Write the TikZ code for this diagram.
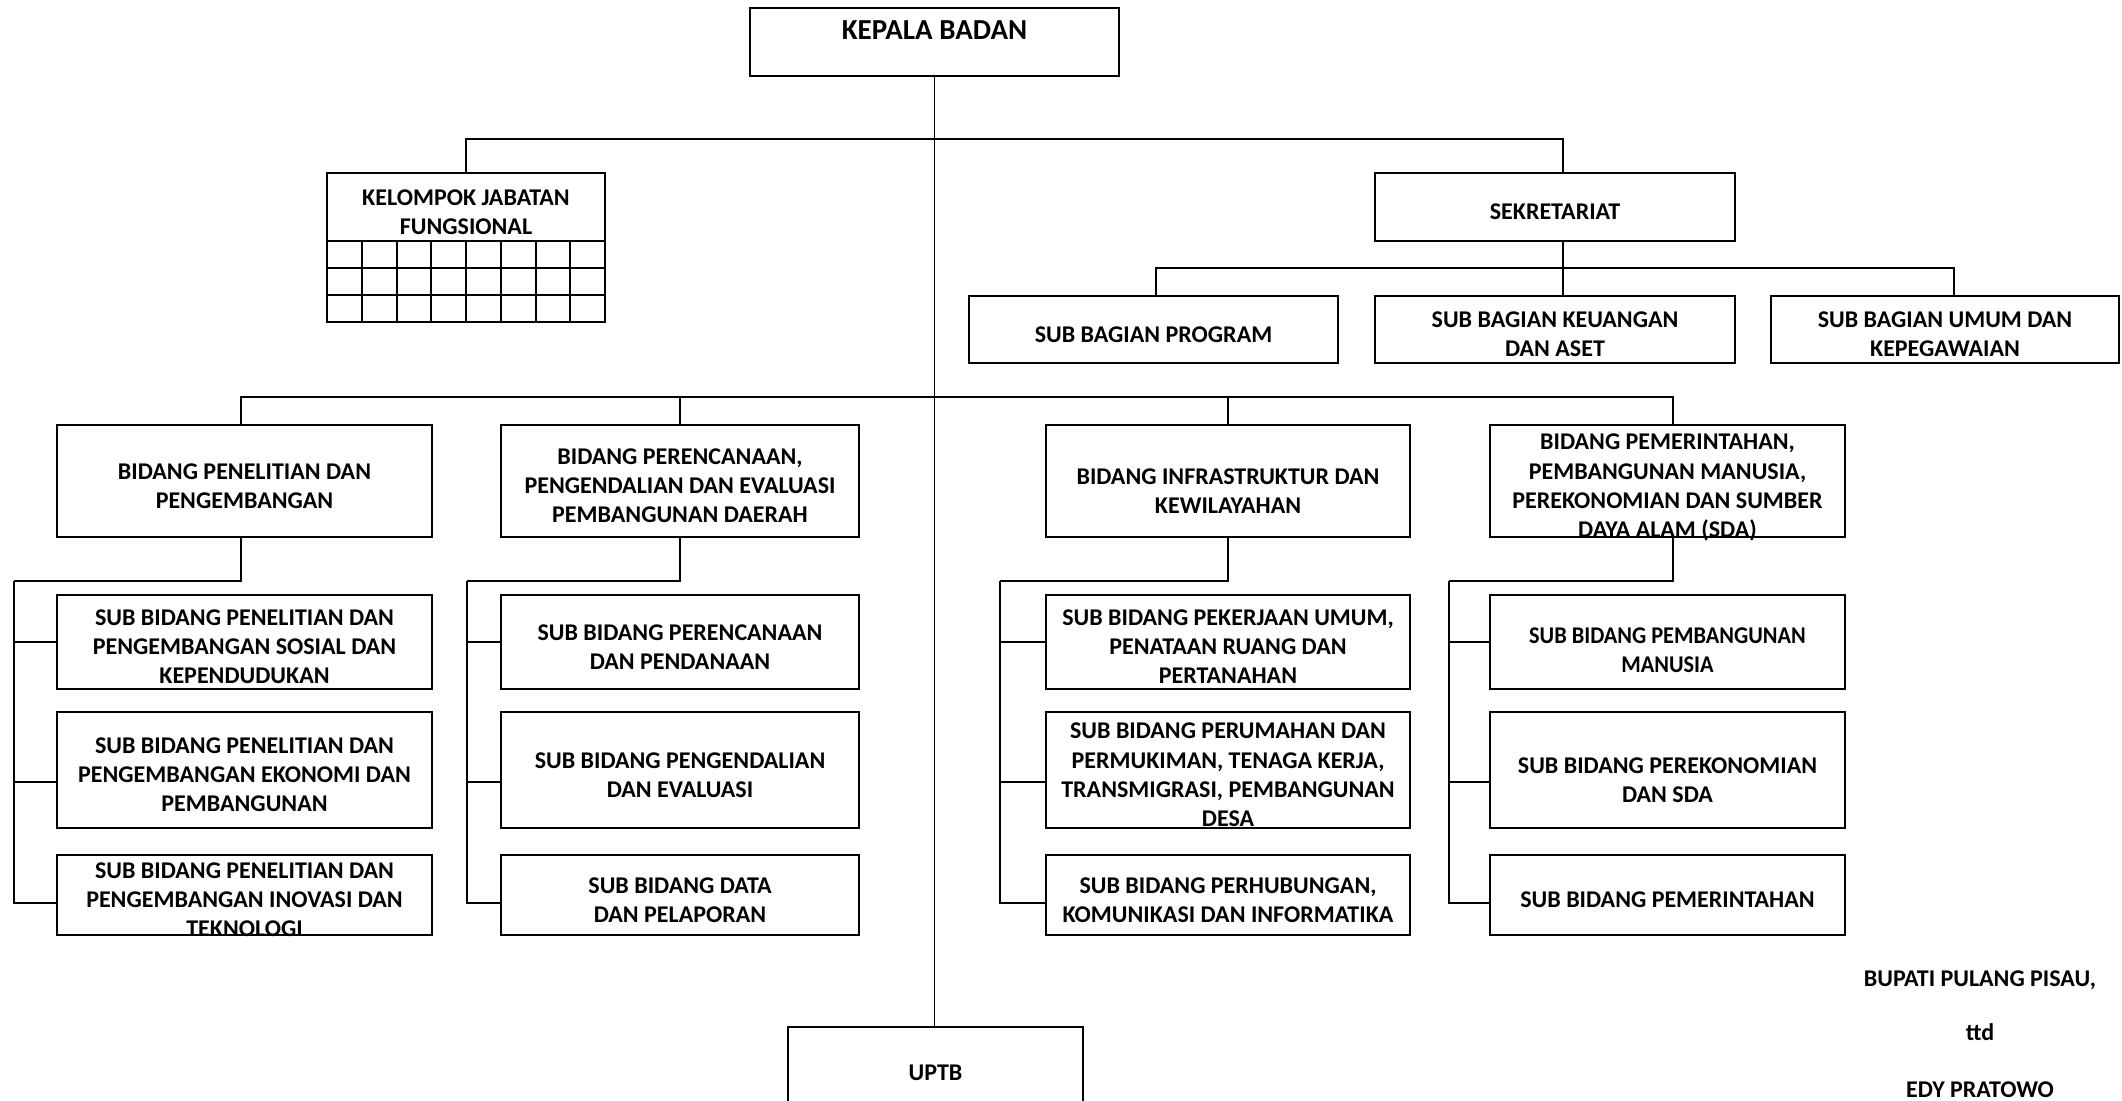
\documentclass[tikz,border=0pt]{standalone}
\usepackage{fontspec}
\setmainfont{Carlito}
\usepackage{tikz}
\usetikzlibrary{fit}
\newcommand\orgfont{\fontsize{12}{14.6}\selectfont\bfseries}
\newcommand\lbl[2][-6.4pt]{\raisebox{#1}[0pt][0pt]{\begin{tabular}{@{}c@{}}#2\end{tabular}}}
\newcommand\narrow[1]{\scalebox{.93}[1]{#1}}
\tikzstyle{unit}=[draw,line width=1.3pt,inner sep=0pt,font=\orgfont]
\tikzstyle{cell}=[line width=1pt]
\tikzstyle{link}=[line width=1pt]
\tikzstyle{trunk}=[line width=.6pt]
\tikzstyle{sign}=[inner sep=0pt,anchor=base,font=\orgfont]
\begin{document}
\begin{tikzpicture}[x=.5pt,y=-.5pt]
	\useasboundingbox (0,0) rectangle (2122,1101);
	% pimpinan dan sekretariat
	\node[unit,fit={(750,8) (1119,76)},font=\fontsize{14.5}{17.7}\selectfont\bfseries] (kb) {\lbl[1.3pt]{KEPALA BADAN}};
	\node[unit,fit={(327,173) (605,241)}] (kjf) {\lbl{KELOMPOK JABATAN\\FUNGSIONAL}};
	\node[unit,fit={(1375,173) (1735,241)}] (sek) {\lbl{SEKRETARIAT}};
	\node[unit,fit={(969,296) (1338,363)}] (sbp) {\lbl{SUB BAGIAN PROGRAM}};
	\node[unit,fit={(1375,296) (1735,363)}] (sbk) {\lbl{SUB BAGIAN KEUANGAN\\DAN ASET}};
	\node[unit,fit={(1771,296) (2119,363)}] (sbu) {\lbl{SUB BAGIAN UMUM DAN\\KEPEGAWAIAN}};
	\draw[cell] (327,241) rectangle (605,322);
	\foreach \r in {268,295} \draw[cell] (327,\r) -- (605,\r);
	\foreach \c in {1,...,7} \draw[cell] (327+34.75*\c,241) -- (327+34.75*\c,322);
	% bidang
	\node[unit,fit={(57,425) (432,537)}] (bp) {\lbl{BIDANG PENELITIAN DAN\\PENGEMBANGAN}};
	\node[unit,fit={(501,425) (859,537)}] (bpr) {\lbl{BIDANG PERENCANAAN,\\PENGENDALIAN DAN EVALUASI\\PEMBANGUNAN DAERAH}};
	\node[unit,fit={(1046,425) (1410,537)}] (bi) {\lbl[-8.9pt]{BIDANG INFRASTRUKTUR DAN\\KEWILAYAHAN}};
	\node[unit,fit={(1490,425) (1845,537)}] (bpm) {\lbl{BIDANG PEMERINTAHAN,\\PEMBANGUNAN MANUSIA,\\PEREKONOMIAN DAN SUMBER\\DAYA ALAM (SDA)}};
	% sub bidang
	\node[unit,fit={(57,595) (432,689)}] (bp-1) {\lbl{SUB BIDANG PENELITIAN DAN\\PENGEMBANGAN SOSIAL DAN\\KEPENDUDUKAN}};
	\node[unit,fit={(57,712) (432,828)}] (bp-2) {\lbl{SUB BIDANG PENELITIAN DAN\\PENGEMBANGAN EKONOMI DAN\\PEMBANGUNAN}};
	\node[unit,fit={(57,855) (432,935)}] (bp-3) {\lbl{SUB BIDANG PENELITIAN DAN\\PENGEMBANGAN INOVASI DAN\\TEKNOLOGI}};
	\node[unit,fit={(501,595) (859,689)}] (bpr-1) {\lbl{SUB BIDANG PERENCANAAN\\DAN PENDANAAN}};
	\node[unit,fit={(501,712) (859,828)}] (bpr-2) {\lbl{SUB BIDANG PENGENDALIAN\\DAN EVALUASI}};
	\node[unit,fit={(501,855) (859,935)}] (bpr-3) {\lbl{SUB BIDANG DATA\\DAN PELAPORAN}};
	\node[unit,fit={(1046,595) (1410,689)}] (bi-1) {\lbl{SUB BIDANG PEKERJAAN UMUM,\\PENATAAN RUANG DAN\\PERTANAHAN}};
	\node[unit,fit={(1046,712) (1410,828)}] (bi-2) {\lbl{SUB BIDANG PERUMAHAN DAN\\PERMUKIMAN, TENAGA KERJA,\\TRANSMIGRASI, PEMBANGUNAN\\DESA}};
	\node[unit,fit={(1046,855) (1410,935)}] (bi-3) {\lbl{SUB BIDANG PERHUBUNGAN,\\KOMUNIKASI DAN INFORMATIKA}};
	\node[unit,fit={(1490,595) (1845,689)}] (bpm-1) {\lbl[-7.9pt]{\narrow{SUB BIDANG PEMBANGUNAN}\\\narrow{MANUSIA}}};
	\node[unit,fit={(1490,712) (1845,828)}] (bpm-2) {\lbl[-8.9pt]{SUB BIDANG PEREKONOMIAN\\DAN SDA}};
	\node[unit,fit={(1490,855) (1845,935)}] (bpm-3) {\lbl{SUB BIDANG PEMERINTAHAN}};
	\node[unit,fit={(788,1027) (1083,1108)}] (uptb) {\lbl{UPTB}};
	% tanda tangan
	\node[sign] (sig1) at (1980,986) {BUPATI PULANG PISAU,};
	\node[sign] (sig2) at (1980,1040) {ttd};
	\node[sign] (sig3) at (1980,1097) {EDY PRATOWO};
	% garis
	\coordinate (h1) at (932,139);
	\coordinate (h2) at (1563,268);
	\coordinate (h3) at (932,397);
	\draw[trunk] (kb.south) -- (kb.south |- uptb.north);
	\draw[link] (kjf.north) |- (h1) -| ([xshift=4pt]sek.north);
	\draw[trunk] ([xshift=4pt]sek.south) -- ([xshift=4pt]sbk.north);
	\draw[link] ([xshift=1pt]sbp.north) |- (h2) -| ([xshift=4.5pt]sbu.north);
	\draw[link] ([xshift=-2pt]bp.north) |- (h3) -| ([xshift=2.5pt]bpm.north);
	\draw[link] (bpr.north) -- (bpr.north |- h3);
	\draw[link] (bi.north) -- (bi.north |- h3);
	\foreach \b/\s/\d in {bp/14/-2pt,bpr/467/0pt,bi/1000/0pt,bpm/1449/2.5pt} {
		\coordinate (\b-s) at (\s,581);
		\draw[link] ([xshift=\d]\b.south) |- (\b-s);
		\draw[link] (\b-1.west) -| (\b-s);
		\draw[link] ([yshift=-6pt]\b-2.west) -| (\b-s);
		\draw[link] ([yshift=-4pt]\b-3.west) -| (\b-s);
	}
\end{tikzpicture}
\end{document}
